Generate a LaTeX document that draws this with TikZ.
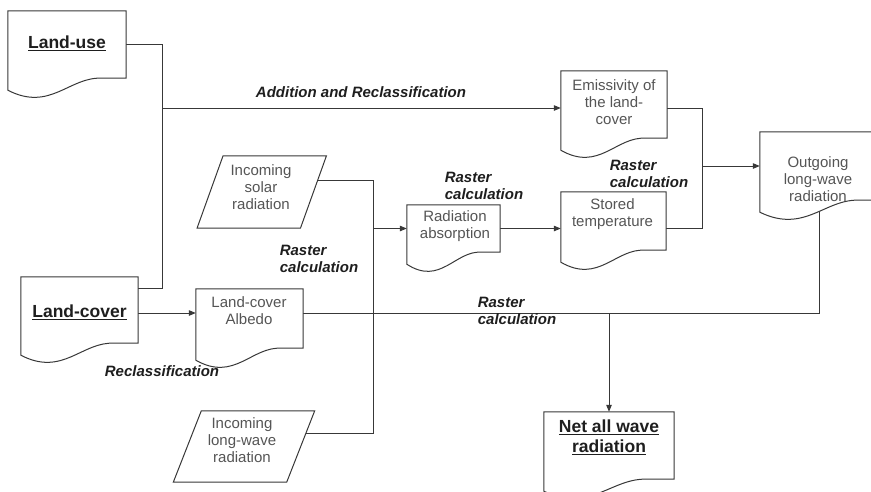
\documentclass[tikz,border=0pt]{standalone}
\usepackage{fontspec}
\setmainfont{Liberation Sans}
\usetikzlibrary{arrows.meta,calc}

\definecolor{linec}{HTML}{383838}
\definecolor{bodyc}{HTML}{555555}
\definecolor{headc}{HTML}{1E1E1E}

\tikzset{
  frame/.style={draw=none, inner sep=0pt},
  flowline/.style={draw=linec, line width=1pt},
  flowarrow/.style={flowline, -{Triangle[length=7pt,width=5.5pt]}},
  shapeline/.style={draw=linec, line width=1pt, fill=white, line join=miter},
  bodytxt/.style={font=\fontsize{15}{17}\selectfont, text=bodyc, align=center, inner sep=0pt},
  headtxt/.style={font=\fontsize{17.5}{20}\selectfont\bfseries, text=headc, align=center, inner sep=0pt},
  optxt/.style={font=\fontsize{15}{17}\selectfont\bfseries\itshape, text=headc, align=left, inner sep=0pt},
}

% document symbol: rectangle whose bottom edge is a wave
\newcommand\docshape[1]{%
  \draw[shapeline] (#1.north west) -- (#1.north east) -- (#1.south east)
    -- ($(#1.south west)!0.8!(#1.south east)$)
    .. controls ($(#1.south west)!0.52!(#1.south east)+(0,-2)$)
       and ($(#1.south west)!0.36!(#1.south east)+(0,34)$)
    .. ($(#1.south west)+(0,12)$) -- cycle;}

% input/output symbol: slanted parallelogram
\newcommand\ioshape[2]{%
  \draw[shapeline] ($(#1.north west)+(#2,0)$) -- ($(#1.north east)+(#2,0)$)
    -- ($(#1.south east)+(-#2,0)$) -- ($(#1.south west)+(-#2,0)$) -- cycle;}

\begin{document}
\begin{tikzpicture}[x=1pt,y=-1pt]
\useasboundingbox (0,0) rectangle (871,491);

% ---- symbol frames (outlines drawn later) ----
\node[frame, minimum width=118pt, minimum height=67pt] (lu)  at (67,44.5) {};
\node[frame, minimum width=117pt, minimum height=66pt] (lcv) at (79.5,310) {};
\node[frame, minimum width=107pt, minimum height=59pt] (alb) at (249.5,318.5) {};
\node[frame, minimum width=106pt, minimum height=67pt] (emi) at (614,104.5) {};
\node[frame, minimum width=93pt,  minimum height=47pt] (rad) at (453.5,228.5) {};
\node[frame, minimum width=105pt, minimum height=58pt] (sto) at (613.5,221) {};
\node[frame, minimum width=125pt, minimum height=68pt] (out) at (822.5,166) {};
\node[frame, minimum width=130pt, minimum height=67pt] (net) at (609,445.5) {};
\node[frame, minimum width=103pt, minimum height=72pt] (sol) at (261.75,192) {};
\node[frame, minimum width=113pt, minimum height=71pt] (lw)  at (244,446.5) {};

% ---- junction coordinates ----
\coordinate (busL) at (162,0);
\coordinate (busR) at (373,0);
\coordinate (busE) at (702,0);
\coordinate (lcv-up)  at ($(lcv.north east)+(0,12)$);
\coordinate (lcv-out) at ($(lcv.east)+(0,3)$);
\coordinate (alb-out) at (alb.east |- lcv-out);
\coordinate (emi-in)  at ($(emi.west)+(0,3.5)$);
\coordinate (emi-out) at ($(emi.east)+(0,3.5)$);
\coordinate (sto-in)  at ($(sto.east)+(0,7)$);
\coordinate (sol-out) at ($(sol.east)+(0,-12)$);
\coordinate (lw-out)  at ($(lw.east)+(0,-13.5)$);
\coordinate (out-b)   at ($(out.south)+(-3.5,0)$);

% ---- connectors ----
\draw[flowline] (lu.east) -| (lcv-up -| busL) -- (lcv-up);
\draw[flowarrow] (emi-in -| busL) -- (emi-in);
\draw[flowarrow] (lcv-out) -- (lcv-out -| alb.west);
\draw[flowline] (sol-out) -| (lw-out -| busR) -- (lw-out);
\draw[flowarrow] (rad.west -| busR) -- (rad.west);
\draw[flowarrow] (rad.east) -- (rad.east -| sto.west);
\draw[flowline] (emi-out) -| (sto-in -| busE) -- (sto-in);
\draw[flowarrow] (out.west -| busE) -- (out.west);
\draw[flowline] (alb-out) -| (out-b);
\draw[flowarrow] (net.north |- alb-out) -- (net.north);

% ---- symbol outlines ----
\docshape{lu}
\docshape{lcv}
\docshape{alb}
\docshape{emi}
\docshape{rad}
\docshape{sto}
\docshape{out}
\docshape{net}
\ioshape{sol}{13}
\ioshape{lw}{14}

% ---- symbol texts ----
\node[headtxt] (lu-t)  at (67,43)    {\underline{Land-use}};
\node[headtxt] (lcv-t) at (79.5,312) {\underline{Land-cover}};
\node[headtxt] (net-t) at (609,437)  {\underline{Net all wave}\\\underline{radiation}};
\node[bodytxt] (alb-t) at (249,311)  {Land-cover\\Albedo};
\node[bodytxt] (emi-t) at (614,102)  {Emissivity of\\the land-\\cover};
\node[bodytxt] (rad-t) at (455,226)  {Radiation\\absorption};
\node[bodytxt] (sto-t) at (612.5,214) {Stored\\temperature};
\node[bodytxt] (out-t) at (818,179.5) {Outgoing\\long-wave\\radiation};
\node[bodytxt] (sol-t) at (261,187)  {Incoming\\solar\\radiation};
\node[bodytxt] (lw-t)  at (242,440)  {Incoming\\long-wave\\radiation};

% ---- operation labels ----
\node[optxt] (op-add)  at (361,92)    {Addition and Reclassification};
\node[optxt] (op-recl) at (162,371)   {Reclassification};
\node[optxt] (op-r1)   at (319,258.5) {Raster\\calculation};
\node[optxt] (op-r2)   at (484,186)   {Raster\\calculation};
\node[optxt] (op-r3)   at (649,173.5) {Raster\\calculation};
\node[optxt] (op-r4)   at (517,310.5) {Raster\\calculation};
\end{tikzpicture}
\end{document}
